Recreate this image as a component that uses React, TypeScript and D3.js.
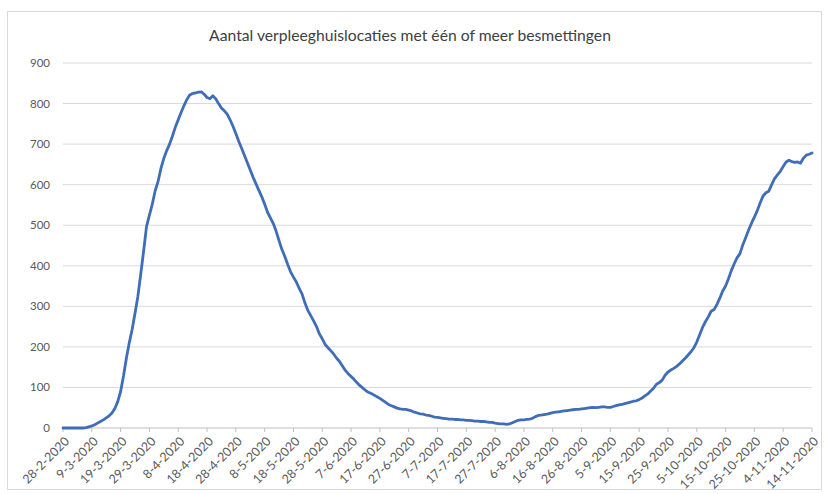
import * as d3 from "d3";
import { useEffect } from "react";

const WIDTH = 829;
const HEIGHT = 494;

const title = "Aantal verpleeghuislocaties met één of meer besmettingen";

// first day of the series (28-2-2020), one value per day
const startDate = "28-2-2020";

const values = [
  0, 0, 0, 0, 0, 0, 0, 0, 1, 3,
  5, 8, 12, 16, 20, 25, 30, 37, 48, 65,
  90, 128, 172, 210, 243, 283, 325, 380, 437, 497,
  525, 552, 585, 608, 640, 665, 684, 700, 720, 742,
  760, 778, 795, 810, 821, 825, 826, 828, 829, 823,
  815, 812, 819, 812, 800, 789, 782, 774, 760, 744,
  726, 707, 690, 672, 654, 636, 618, 602, 586, 570,
  552, 532, 518, 504, 485, 462, 440, 423, 403, 385,
  372, 360, 344, 330, 308, 290, 277, 264, 250, 232,
  220, 206, 198, 190, 182, 172, 164, 153, 142, 134,
  127, 120, 112, 105, 99, 93, 88, 85, 81, 77,
  73, 68, 63, 58, 55, 52, 49, 47, 46, 46,
  44, 42, 39, 37, 35, 34, 32, 31, 29, 27,
  26, 25, 24, 23, 22, 22, 21, 21, 20, 20,
  19, 19, 18, 17, 17, 16, 16, 15, 14, 14,
  12, 11, 10, 10, 9, 10, 13, 16, 19, 20,
  20, 21, 22, 24, 28, 31, 32, 33, 34, 36,
  38, 39, 40, 41, 42, 43, 44, 45, 46, 46,
  47, 48, 49, 50, 51, 50, 51, 52, 52, 51,
  51, 53, 55, 57, 58, 60, 62, 64, 66, 67,
  70, 74, 79, 84, 91, 98, 108, 112, 118, 130,
  138, 143, 147, 152, 158, 165, 172, 180, 188, 198,
  212, 230, 248, 262, 274, 288, 292, 305, 320, 338,
  350, 368, 388, 405, 420, 430, 452, 470, 488, 505,
  520, 536, 555, 572, 580, 584, 600, 615, 624, 633,
  645, 656, 660, 657, 655, 656, 653, 665, 673, 675, 678,
];

const xTickLabels = [
  "28-2-2020", "9-3-2020", "19-3-2020", "29-3-2020", "8-4-2020", "18-4-2020",
  "28-4-2020", "8-5-2020", "18-5-2020", "28-5-2020", "7-6-2020", "17-6-2020",
  "27-6-2020", "7-7-2020", "17-7-2020", "27-7-2020", "6-8-2020", "16-8-2020",
  "26-8-2020", "5-9-2020", "15-9-2020", "25-9-2020", "5-10-2020", "15-10-2020",
  "25-10-2020", "4-11-2020", "14-11-2020",
];

const yTicks = [0, 100, 200, 300, 400, 500, 600, 700, 800, 900];

const parseDate = (s: string) => {
  const [d, m, y] = s.split("-").map(Number);
  return new Date(Date.UTC(y, m - 1, d));
};

const margin = { left: 63, right: 17, top: 63, bottom: 66 };

const App = () => {
  useEffect(() => {
    document.body.style.margin = "0";
  }, []);

  const start = parseDate(startDate);
  const data = values.map((v, i) => ({
    date: d3.utcDay.offset(start, i),
    value: v,
  }));
  const tickDates = xTickLabels.map(parseDate);

  const x = d3
    .scaleUtc()
    .domain([start, tickDates[tickDates.length - 1]])
    .range([margin.left, WIDTH - margin.right]);
  const y = d3
    .scaleLinear()
    .domain([0, 900])
    .range([HEIGHT - margin.bottom, margin.top]);

  const line = d3
    .line<{ date: Date; value: number }>()
    .x((d) => x(d.date))
    .y((d) => y(d.value));

  const font = "Lato, 'Open Sans', sans-serif";

  return (
    <svg width={WIDTH} height={HEIGHT} style={{ display: "block" }}>
      <rect x={0} y={0} width={WIDTH} height={HEIGHT} fill="#fff" />
      <rect
        x={7.5}
        y={11.5}
        width={814}
        height={478}
        fill="none"
        stroke="#d9d9d9"
      />
      <text
        x={410}
        y={41}
        textAnchor="middle"
        fontFamily={font}
        fontSize={15.7}
        fill="#404040"
      >
        {title}
      </text>
      {yTicks.map((t) => (
        <g key={t}>
          {t > 0 && (
            <line
              x1={margin.left}
              x2={WIDTH - margin.right}
              y1={y(t)}
              y2={y(t)}
              stroke="#d9d9d9"
              strokeWidth={1}
            />
          )}
          <text
            x={50}
            y={y(t)}
            dy="0.35em"
            textAnchor="end"
            fontFamily={font}
            fontSize={11.5}
            fill="#595959"
          >
            {t}
          </text>
        </g>
      ))}
      <line
        x1={margin.left}
        x2={WIDTH - margin.right}
        y1={y(0)}
        y2={y(0)}
        stroke="#bfbfbf"
      />
      {tickDates.map((d, i) => (
        <g key={xTickLabels[i]} transform={`translate(${x(d)},${y(0)})`}>
          <line y1={0} y2={4} stroke="#bfbfbf" />
          <text
            transform="translate(4,11) rotate(-45)"
            textAnchor="end"
            dy="0.35em"
            fontFamily={font}
            fontSize={12.5}
            fill="#595959"
          >
            {xTickLabels[i]}
          </text>
        </g>
      ))}
      <path
        d={line(data) ?? ""}
        fill="none"
        stroke="#3f6db8"
        strokeWidth={2.8}
        strokeLinejoin="round"
        strokeLinecap="round"
      />
    </svg>
  );
};

export default App;
